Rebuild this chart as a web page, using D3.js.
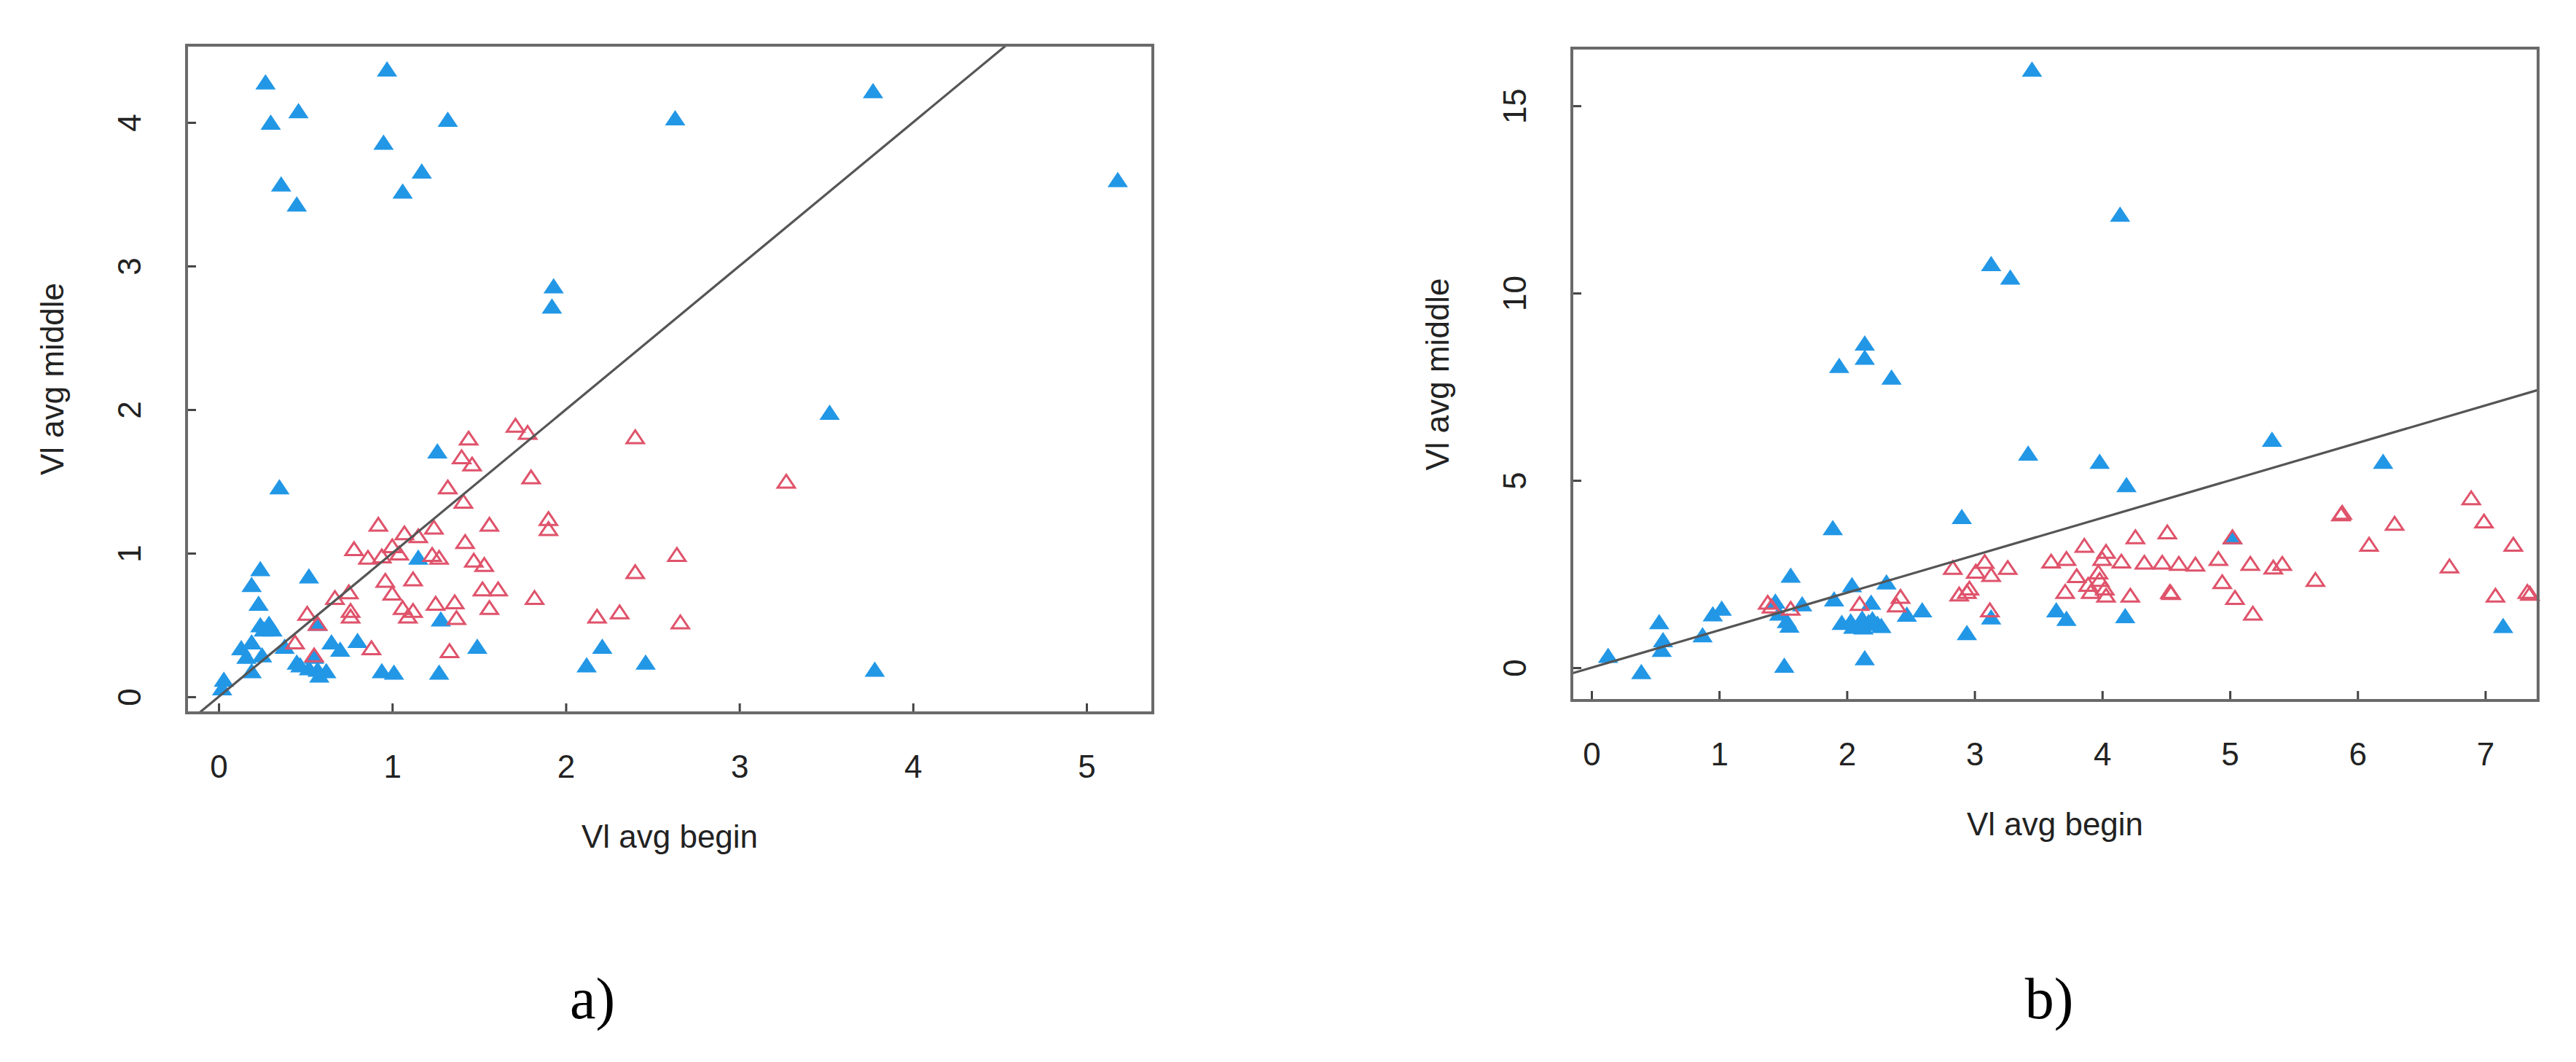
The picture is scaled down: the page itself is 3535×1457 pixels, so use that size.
<!DOCTYPE html>
<html>
<head>
<meta charset="utf-8">
<script src="https://cdn.jsdelivr.net/npm/d3@7"></script>
<style>
  html, body { margin: 0; padding: 0; background: #ffffff; }
  svg { display: block; }
</style>
</head>
<body>
<svg id="chart" width="3535" height="1457"></svg>
<script>
// ---------------- DATA ----------------
// Panel a) : [Vl avg begin, Vl avg middle]
const panelA_filled = [
  [0.27,4.28],[0.97,4.37],[0.30,4.00],[0.46,4.08],[1.32,4.02],[0.95,3.86],[1.17,3.66],[1.06,3.52],
  [0.36,3.57],[0.45,3.43],[2.63,4.03],[3.77,4.22],[5.18,3.60],[1.93,2.86],[1.92,2.72],[3.52,1.98],
  [3.78,0.19],[2.46,0.24],[1.26,1.71],[0.35,1.46],[0.24,0.89],[0.52,0.84],[0.19,0.78],[0.23,0.65],
  [0.24,0.50],[0.29,0.51],[0.26,0.47],[0.31,0.47],[0.57,0.51],[1.15,0.97],[1.28,0.54],[0.13,0.34],
  [0.19,0.38],[0.16,0.28],[0.25,0.29],[0.19,0.18],[0.38,0.35],[0.03,0.12],[0.02,0.06],[0.65,0.38],
  [0.70,0.33],[0.80,0.39],[0.55,0.28],[0.45,0.24],[0.47,0.22],[0.57,0.19],[0.62,0.18],[0.58,0.15],
  [0.52,0.20],[0.94,0.18],[1.01,0.17],[1.27,0.17],[1.49,0.35],[2.12,0.22],[2.21,0.35]
];
const panelA_open = [
  [1.44,1.80],[1.40,1.67],[1.46,1.62],[1.80,1.53],[1.32,1.46],[1.41,1.36],[1.71,1.89],[1.78,1.84],
  [0.92,1.20],[1.56,1.20],[1.90,1.24],[1.90,1.17],[1.24,1.18],[1.07,1.14],[1.15,1.12],[0.78,1.03],
  [1.00,1.05],[1.42,1.08],[0.86,0.97],[0.94,0.98],[1.04,1.00],[1.23,0.99],[1.27,0.97],[1.47,0.95],
  [1.53,0.92],[0.96,0.81],[1.12,0.82],[1.00,0.72],[0.75,0.73],[0.67,0.69],[1.52,0.75],[1.61,0.75],
  [1.56,0.62],[1.82,0.69],[1.06,0.62],[1.12,0.60],[1.25,0.65],[1.36,0.66],[0.76,0.60],[0.76,0.56],
  [1.09,0.56],[1.37,0.55],[0.51,0.58],[2.18,0.56],[2.31,0.59],[0.44,0.38],[0.88,0.34],[1.33,0.32],
  [0.55,0.29],[0.57,0.51],[2.40,1.81],[3.27,1.50],[2.40,0.87],[2.64,0.99],[2.66,0.52]
];
// Panel b)
const panelB_filled = [
  [3.45,15.97],[4.14,12.10],[3.13,10.78],[3.28,10.42],[2.14,8.66],[2.14,8.28],[1.94,8.06],[2.35,7.75],
  [5.33,6.09],[3.42,5.72],[3.98,5.50],[6.20,5.50],[4.19,4.88],[2.90,4.03],[1.89,3.73],[5.02,3.49],
  [1.56,2.46],[2.04,2.21],[2.31,2.28],[1.02,1.58],[0.95,1.43],[0.53,1.22],[0.56,0.74],[0.55,0.48],
  [0.87,0.87],[0.13,0.32],[0.39,-0.11],[1.44,1.77],[1.65,1.70],[1.90,1.83],[1.47,1.45],[1.53,1.25],
  [1.55,1.13],[1.51,0.06],[2.14,0.26],[2.19,1.74],[2.47,1.42],[2.59,1.54],[2.94,0.93],[3.13,1.35],
  [1.96,1.20],[2.03,1.24],[2.10,1.18],[2.17,1.22],[2.24,1.18],[2.12,1.32],[2.20,1.30],[2.27,1.12],
  [2.05,1.10],[2.13,1.08],[3.64,1.54],[3.72,1.31],[4.18,1.38],[7.14,1.12]
];
const panelB_open = [
  [1.38,1.74],[1.41,1.64],[1.56,1.58],[2.10,1.71],[2.42,1.90],[2.39,1.67],[2.83,2.67],[3.08,2.83],
  [3.01,2.57],[3.26,2.67],[3.13,2.48],[2.96,2.12],[2.88,1.96],[2.94,2.03],[3.12,1.54],[3.60,2.84],
  [6.89,4.53],[5.88,4.14],[5.87,4.10],[6.29,3.85],[6.99,3.91],[6.09,3.29],[7.22,3.29],[4.51,3.62],
  [4.26,3.49],[3.86,3.26],[5.02,3.49],[3.72,2.91],[4.03,3.10],[4.00,2.91],[4.15,2.84],[4.33,2.81],
  [4.47,2.81],[4.60,2.78],[4.73,2.76],[4.91,2.91],[5.16,2.78],[5.34,2.68],[5.41,2.78],[5.67,2.35],
  [6.72,2.71],[3.80,2.45],[3.97,2.55],[3.89,2.22],[3.98,2.35],[4.02,2.12],[3.71,2.03],[3.91,2.03],
  [4.03,1.93],[4.22,1.93],[4.53,2.03],[4.54,2.00],[4.94,2.29],[5.04,1.87],[5.18,1.45],[7.08,1.93],
  [7.33,2.03],[7.35,1.98]
];
const panelA_xTicks = [0, 1, 2, 3, 4, 5];
const panelA_yTicks = [0, 1, 2, 3, 4];
const panelB_xTicks = [0, 1, 2, 3, 4, 5, 6, 7];
const panelB_yTicks = [0, 5, 10, 15];
const xTitle = "Vl avg begin";
const yTitle = "Vl avg middle";
const panelLabels = ["a)", "b)"];
const refLine = [0, 1]; // intercept, slope (y = x)

// ---------------- LAYOUT ----------------
const svg = d3.select("#chart");
const FONT = "'Liberation Sans', Arial, Helvetica, sans-serif";
const COL_FILLED = "#2297E6";
const COL_OPEN = "#DF536B";
const FRAME = "#6a6a6a";

const panels = [
  { filled: panelA_filled, open: panelA_open, xt: panelA_xTicks, yt: panelA_yTicks,
    x0: 256, x1: 1582, y0: 62, y1: 978, xd: [-0.185, 5.382], yd: [-0.112, 4.538],
    label: panelLabels[0], labelX: 813 },
  { filled: panelB_filled, open: panelB_open, xt: panelB_xTicks, yt: panelB_yTicks,
    x0: 2157, x1: 3483, y0: 66, y1: 961, xd: [-0.154, 7.414], yd: [-0.875, 16.54],
    label: panelLabels[1], labelX: 2812 }
];

const triFilled = "M0,-11 L14,10 L-14,10 Z";
const triOpen = "M0,-9 L11.8,8.5 L-11.8,8.5 Z";

panels.forEach((p, i) => {
  const g = svg.append("g");
  const x = d3.scaleLinear().domain(p.xd).range([p.x0, p.x1]);
  const y = d3.scaleLinear().domain(p.yd).range([p.y1, p.y0]);

  const clipId = "clip" + i;
  svg.append("clipPath").attr("id", clipId)
    .append("rect").attr("x", p.x0).attr("y", p.y0)
    .attr("width", p.x1 - p.x0).attr("height", p.y1 - p.y0);

  // points: filled first, open on top
  const pts = g.append("g");
  pts.selectAll("path.f").data(p.filled).enter().append("path")
    .attr("class", "f")
    .attr("d", triFilled)
    .attr("transform", d => `translate(${x(d[0])},${y(d[1])})`)
    .attr("fill", COL_FILLED);
  pts.selectAll("path.o").data(p.open).enter().append("path")
    .attr("class", "o")
    .attr("d", triOpen)
    .attr("transform", d => `translate(${x(d[0])},${y(d[1])})`)
    .attr("fill", "none")
    .attr("stroke", COL_OPEN)
    .attr("stroke-width", 3)
    .attr("stroke-linejoin", "miter");

  // reference line y = a + b x
  const xs = [p.xd[0] - 1, p.xd[1] + 1];
  g.append("line")
    .attr("clip-path", `url(#${clipId})`)
    .attr("x1", x(xs[0])).attr("y1", y(refLine[0] + refLine[1] * xs[0]))
    .attr("x2", x(xs[1])).attr("y2", y(refLine[0] + refLine[1] * xs[1]))
    .attr("stroke", "#555555").attr("stroke-width", 3.2);

  // axes
  const ax = g.append("g").attr("transform", `translate(0,${p.y1})`)
    .call(d3.axisBottom(x).tickValues(p.xt).tickSize(-13).tickFormat(d3.format("d")));
  ax.select(".domain").remove();
  ax.selectAll(".tick line").attr("stroke", "#444").attr("stroke-width", 3);
  ax.selectAll(".tick text")
    .attr("y", 89).attr("dy", null)
    .attr("font-family", FONT).attr("font-size", 44).attr("fill", "#222");

  const ay = g.append("g").attr("transform", `translate(${p.x0},0)`)
    .call(d3.axisLeft(y).tickValues(p.yt).tickSize(-13).tickFormat(d3.format("d")));
  ay.select(".domain").remove();
  ay.selectAll(".tick line").attr("stroke", "#444").attr("stroke-width", 3);
  ay.selectAll(".tick text")
    .attr("x", null).attr("dy", null)
    .attr("transform", "translate(-63,0) rotate(-90)")
    .attr("text-anchor", "middle")
    .attr("font-family", FONT).attr("font-size", 44).attr("fill", "#222");

  // frame
  g.append("rect")
    .attr("x", p.x0).attr("y", p.y0)
    .attr("width", p.x1 - p.x0).attr("height", p.y1 - p.y0)
    .attr("fill", "none").attr("stroke", FRAME).attr("stroke-width", 4);

  // titles
  g.append("text")
    .attr("x", (p.x0 + p.x1) / 2).attr("y", p.y1 + 185)
    .attr("text-anchor", "middle")
    .attr("font-family", FONT).attr("font-size", 44).attr("fill", "#222")
    .text(xTitle);
  g.append("text")
    .attr("transform", `translate(${p.x0 - 169},${(p.y0 + p.y1) / 2}) rotate(-90)`)
    .attr("text-anchor", "middle")
    .attr("font-family", FONT).attr("font-size", 44).attr("fill", "#222")
    .text(yTitle);

  // panel label
  g.append("text")
    .attr("x", p.labelX).attr("y", 1397)
    .attr("text-anchor", "middle")
    .attr("font-family", "'Palatino Linotype', 'Book Antiqua', 'Liberation Serif', 'DejaVu Serif', serif")
    .attr("font-size", 80).attr("fill", "#000")
    .text(p.label);
});
</script>
</body>
</html>
